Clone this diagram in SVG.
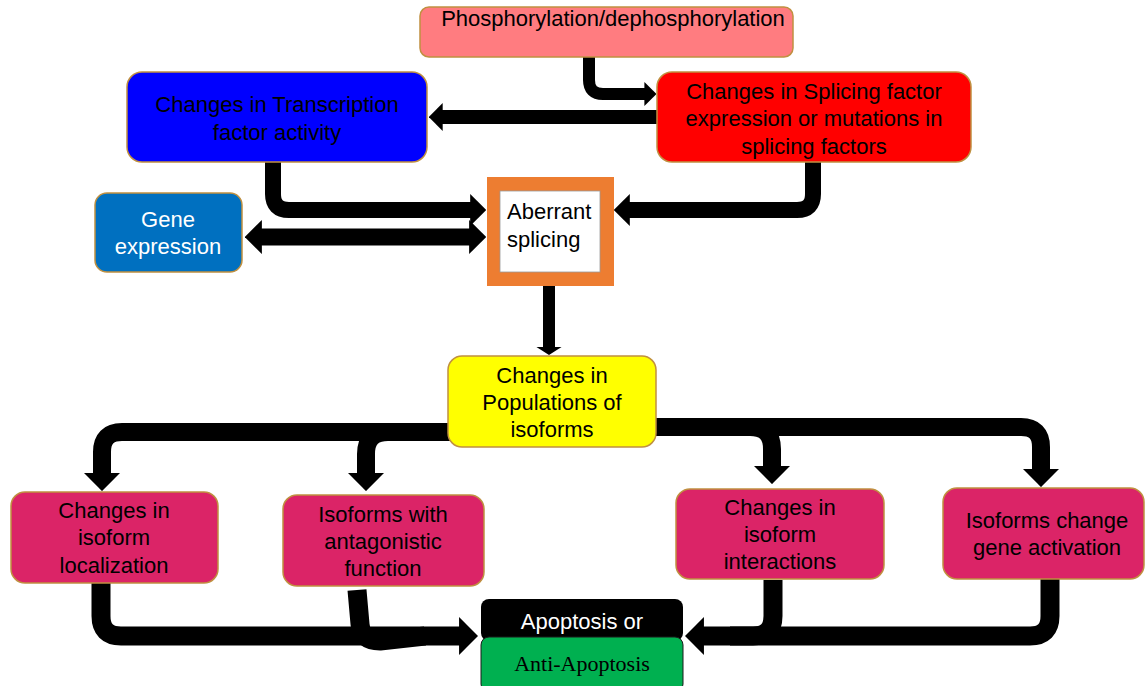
<svg xmlns="http://www.w3.org/2000/svg" width="1145" height="686" viewBox="0 0 1145 686">
  <style>
    .box { stroke: #C09040; stroke-width: 1.5; }
    .t { font-family: "Liberation Sans", Arial, sans-serif; font-size: 22px; text-anchor: middle; fill: #000; }
    .w { fill: #fff; }
    .serif { font-family: "Liberation Serif", "Times New Roman", serif; }
    .c { fill: none; stroke: #000; stroke-linecap: butt; stroke-linejoin: round; }
  </style>
  <defs>
    <marker id="ah" markerUnits="strokeWidth" viewBox="0 0 10 20" refX="0.5" refY="10" markerWidth="1" markerHeight="2" orient="auto-start-reverse">
      <path d="M0,0 L10,10 L0,20 z" fill="#000"/>
    </marker>
    <marker id="ahs" markerUnits="strokeWidth" viewBox="0 0 10 20" refX="0.5" refY="10" markerWidth="0.7" markerHeight="2.2" orient="auto" preserveAspectRatio="none">
      <path d="M0,0 L10,10 L0,20 z" fill="#000"/>
    </marker>
  </defs>
  <rect width="1145" height="686" fill="#fff"/>

  <g id="connectors">
    <path class="c" d="M589,57 V80 Q589,94 603,94 H645" stroke-width="12" marker-end="url(#ah)"/>
    <path class="c" d="M657,117 H442" stroke-width="14" marker-end="url(#ah)"/>
    <path class="c" d="M273,162 V194 Q273,210 289,210 H471" stroke-width="16" marker-end="url(#ah)"/>
    <path class="c" d="M813,162 V194 Q813,210 797,210 H629" stroke-width="16" marker-end="url(#ah)"/>
    <path class="c" d="M261,237 H470" stroke-width="17" marker-start="url(#ah)" marker-end="url(#ah)"/>
    <path class="c" d="M549,286 V347" stroke-width="12" marker-end="url(#ahs)"/>
    <path class="c" d="M450,432 H122 Q102,432 102,452 V474" stroke-width="18" marker-end="url(#ah)"/>
    <path class="c" d="M388,432 Q366,432 366,454 V474" stroke-width="18" marker-end="url(#ah)"/>
    <path class="c" d="M655,427 H1021 Q1041,427 1041,447 V470" stroke-width="18" marker-end="url(#ah)"/>
    <path class="c" d="M750,427 Q772,427 772,449 V467" stroke-width="18" marker-end="url(#ah)"/>
    <path class="c" d="M101,583 V616 Q101,636 121,636 H460" stroke-width="19" marker-end="url(#ah)"/>
    <path class="c" d="M357,590 L360,624 Q361,641 380,641 L425,636" stroke-width="19"/>
    <path class="c" d="M1050,579 V616 Q1050,636 1030,636 H703" stroke-width="19" marker-end="url(#ah)"/>
    <path class="c" d="M773,580 V616 Q773,636 753,636 H730" stroke-width="19"/>
  </g>

  <g id="phosphorylation">
    <rect class="box" x="420" y="7" width="373" height="50" rx="9" fill="#FF7C80"/>
    <text class="t" x="613" y="26">Phosphorylation/dephosphorylation</text>
  </g>

  <g id="transcription">
    <rect class="box" x="127" y="72" width="300" height="90" rx="15" fill="#0000FF"/>
    <text class="t" x="277" y="112">Changes in Transcription</text>
    <text class="t" x="277" y="140">factor activity</text>
  </g>

  <g id="splicing-factor">
    <rect class="box" x="657" y="72" width="314" height="90" rx="15" fill="#FF0000"/>
    <text class="t" x="814" y="99">Changes in Splicing factor</text>
    <text class="t" x="814" y="126">expression or mutations in</text>
    <text class="t" x="814" y="154">splicing factors</text>
  </g>

  <g id="gene-expression">
    <rect class="box" x="95" y="193" width="147" height="79" rx="12" fill="#0070C0"/>
    <text class="t w" x="168" y="227">Gene</text>
    <text class="t w" x="168" y="254">expression</text>
  </g>

  <g id="aberrant-splicing">
    <rect x="487" y="177" width="127" height="109" fill="#ED7D31"/>
    <rect x="500" y="191" width="100" height="81" fill="#fff" stroke="#999" stroke-width="0.8"/>
    <text class="t" x="507" y="219" style="text-anchor:start">Aberrant</text>
    <text class="t" x="507" y="247" style="text-anchor:start">splicing</text>
  </g>

  <g id="populations">
    <rect class="box" x="448" y="356" width="208" height="91" rx="14" fill="#FFFF00"/>
    <text class="t" x="552" y="383">Changes in</text>
    <text class="t" x="552" y="410">Populations of</text>
    <text class="t" x="552" y="437">isoforms</text>
  </g>

  <g id="localization">
    <rect class="box" x="11" y="492" width="207" height="91" rx="14" fill="#DB2467"/>
    <text class="t" x="114" y="518">Changes in</text>
    <text class="t" x="114" y="545">isoform</text>
    <text class="t" x="114" y="573">localization</text>
  </g>

  <g id="antagonistic">
    <rect class="box" x="283" y="495" width="201" height="91" rx="14" fill="#DB2467"/>
    <text class="t" x="383" y="522">Isoforms with</text>
    <text class="t" x="383" y="549">antagonistic</text>
    <text class="t" x="383" y="576">function</text>
  </g>

  <g id="interactions">
    <rect class="box" x="676" y="489" width="208" height="90" rx="14" fill="#DB2467"/>
    <text class="t" x="780" y="515">Changes in</text>
    <text class="t" x="780" y="542">isoform</text>
    <text class="t" x="780" y="569">interactions</text>
  </g>

  <g id="gene-activation">
    <rect class="box" x="943" y="488" width="201" height="91" rx="14" fill="#DB2467"/>
    <text class="t" x="1047" y="528">Isoforms change</text>
    <text class="t" x="1047" y="555">gene activation</text>
  </g>

  <g id="apoptosis">
    <rect x="481" y="599" width="202" height="42" rx="8" fill="#000"/>
    <rect x="481" y="637" width="202" height="55" rx="8" fill="#00B050" stroke="#1a1a1a" stroke-width="1"/>
    <text class="t w" x="582" y="629">Apoptosis or</text>
    <text class="t serif" x="582" y="671">Anti-Apoptosis</text>
  </g>
</svg>
